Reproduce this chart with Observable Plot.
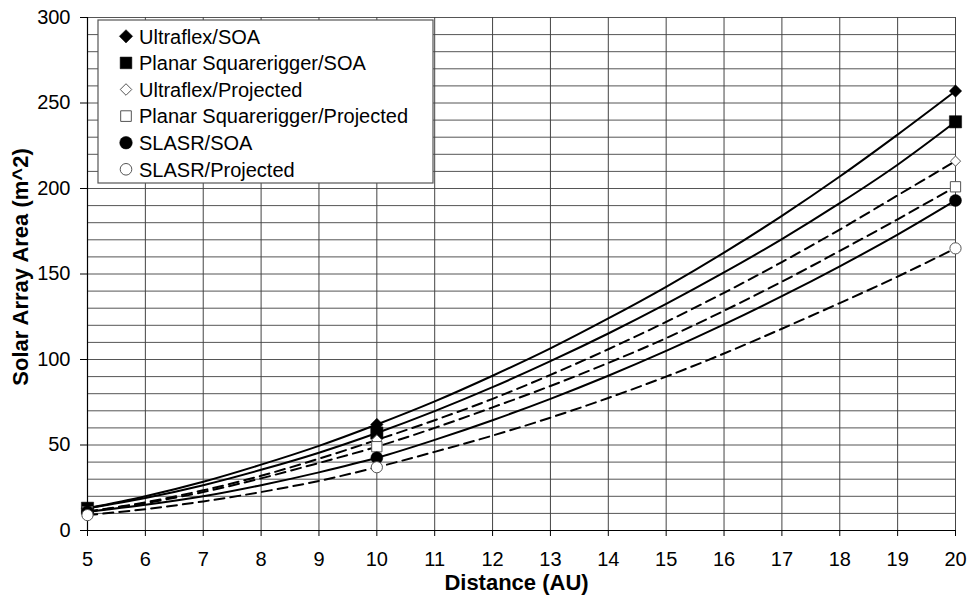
<!DOCTYPE html>
<html><head><meta charset="utf-8">
<script src="https://cdn.jsdelivr.net/npm/d3@7"></script>
<script src="https://cdn.jsdelivr.net/npm/@observablehq/plot@0.6"></script>
<style>body{margin:0;background:#fff}</style>
</head><body><div id="chart"></div>
<script>
// ---- data ----
const distances = [5, 6, 7, 8, 9, 10, 11, 12, 13, 14, 15, 16, 17, 18, 19, 20];
const markerDistances = [5, 10, 20];
const seriesNames = ["Ultraflex/SOA", "Planar Squarerigger/SOA", "Ultraflex/Projected", "Planar Squarerigger/Projected", "SLASR/SOA", "SLASR/Projected"];
const ultraflexSOA       = [13, 20, 28.5, 38.5, 49.5, 62, 75.5, 90.5, 106.5, 124, 142.5, 162.5, 184, 207, 231.5, 257];
const planarSOA          = [13, 19, 26.5, 35.5, 45.5, 57, 69.8, 83.8, 99, 115.2, 132.5, 150.9, 170.4, 191.4, 213.9, 239];
const ultraflexProjected = [11, 16.5, 23.5, 32, 42, 53, 64.5, 77, 91, 106, 122, 139, 157, 176, 196, 216];
const planarProjected    = [11, 16, 22.5, 30.5, 39.5, 49, 60, 72, 84.5, 98, 112.5, 128.5, 145.5, 163.5, 182, 201];
const slasrSOA           = [11, 15, 20, 26.5, 34, 42.5, 53, 64.5, 77, 90.5, 105, 120.5, 137, 154.5, 173, 193];
const slasrProjected     = [9, 12.5, 17, 22.5, 29, 37, 46, 55.5, 66, 77.5, 90, 103.5, 118, 133, 148.5, 165];
const xTicks = [5, 6, 7, 8, 9, 10, 11, 12, 13, 14, 15, 16, 17, 18, 19, 20];
const yTicks = [0, 50, 100, 150, 200, 250, 300];
const yGrid = [10, 20, 30, 40, 50, 60, 70, 80, 90, 100, 110, 120, 130, 140, 150, 160, 170, 180, 190, 200, 210, 220, 230, 240, 250, 260, 270, 280, 290, 300];

const seriesValues = [ultraflexSOA, planarSOA, ultraflexProjected, planarProjected, slasrSOA, slasrProjected];

// ---- styles ----
const styles = [
  {symbol: "diamond2", fill: "black", stroke: "black", r: 5.6, dashed: false, lr: 6.0},
  {symbol: "square", fill: "black", stroke: "black", r: 6.9, dashed: false, lr: 6.6},
  {symbol: "diamond2", fill: "white", stroke: "#555", r: 4.6, dashed: true, lr: 5.2},
  {symbol: "square", fill: "white", stroke: "#555", r: 5.8, dashed: true, lr: 6.0},
  {symbol: "circle", fill: "black", stroke: "black", r: 6.0, dashed: false, lr: 6.3},
  {symbol: "circle", fill: "white", stroke: "#555", r: 5.6, dashed: true, lr: 5.8}
];

const table = [];
seriesNames.forEach((name, i) => {
  distances.forEach((d, j) => table.push({series: name, idx: i, distance: d, area: seriesValues[i][j]}));
});

const font = "'Liberation Sans', Arial, sans-serif";

const seriesMarks = [];
seriesNames.forEach((name, i) => {
  const rows = table.filter(r => r.idx === i);
  const s = styles[i];
  seriesMarks.push(Plot.line(rows, {
    x: "distance", y: "area", curve: "catmull-rom",
    stroke: "black", strokeWidth: 2,
    strokeDasharray: s.dashed ? "10,6" : null
  }));
});
seriesNames.forEach((name, i) => {
  const rows = table.filter(r => r.idx === i && markerDistances.includes(r.distance));
  const s = styles[i];
  seriesMarks.push(Plot.dot(rows, {
    x: "distance", y: "area", symbol: s.symbol, r: s.r,
    fill: s.fill, stroke: s.stroke, strokeWidth: s.fill === "white" ? 1 : 0.5
  }));
});

const plot = Plot.plot({
  width: 969, height: 603,
  marginLeft: 87, marginRight: 14, marginTop: 17, marginBottom: 73,
  style: {fontFamily: font, background: "white"},
  x: {domain: [5, 20]},
  y: {domain: [0, 300]},
  marks: [
    Plot.gridY(yGrid, {stroke: "#555", strokeOpacity: 1}),
    Plot.gridX(xTicks, {stroke: "#444", strokeOpacity: 1}),
    Plot.axisX(xTicks, {tickSize: 6, tickFormat: () => "", label: null}),
    Plot.text(xTicks, {x: d => d, frameAnchor: "bottom", dy: 29, lineAnchor: "middle", fontSize: 20, fill: "black"}),
    Plot.axisY(yTicks, {tickSize: 7, tickPadding: 10, fontSize: 20, label: null}),
    Plot.ruleX([5], {stroke: "black", strokeWidth: 1.2}),
    Plot.ruleY([0], {stroke: "black", strokeWidth: 1.2}),
    ...seriesMarks,
    Plot.text(["Distance (AU)"], {frameAnchor: "bottom", dx: -5, dy: 52, fontSize: 22, fontWeight: "bold", lineAnchor: "middle", fill: "black"}),
    Plot.text(["Solar Array Area (m^2)"], {frameAnchor: "left", dx: -67, dy: -7, rotate: -90, fontSize: 22, fontWeight: "bold", lineAnchor: "middle", textAnchor: "middle", fill: "black"})
  ]
});

document.getElementById("chart").appendChild(plot);

// ---- legend box inside the plot area ----
const svg = d3.select(plot);
const lg = svg.append("g").attr("class", "legend");
lg.append("rect").attr("x", 98).attr("y", 20).attr("width", 335).attr("height", 163)
  .attr("fill", "white").attr("stroke", "#555").attr("stroke-width", 1.2);
const symTypes = {diamond2: d3.symbolDiamond2, square: d3.symbolSquare, circle: d3.symbolCircle};
seriesNames.forEach((name, i) => {
  const s = styles[i];
  const cy = 36.3 + i * 26.6;
  lg.append("path")
    .attr("d", d3.symbol().type(symTypes[s.symbol]).size(Math.PI * s.lr * s.lr)())
    .attr("transform", `translate(126,${cy})`)
    .attr("fill", s.fill).attr("stroke", s.stroke).attr("stroke-width", s.fill === "white" ? 1 : 0.5);
  lg.append("text").attr("x", 139).attr("y", cy + 7.2)
    .attr("text-anchor", "start")
    .attr("font-family", font).attr("font-size", 20).attr("fill", "black")
    .text(name);
});
</script>
</body></html>
